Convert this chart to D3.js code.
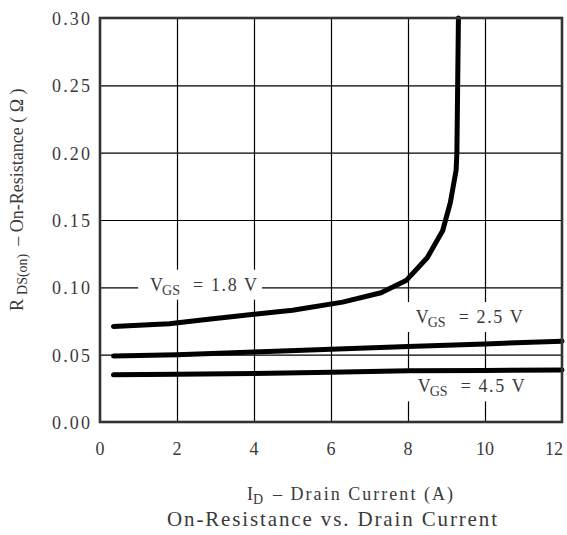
<!DOCTYPE html>
<html><head><meta charset="utf-8">
<script src="https://cdn.jsdelivr.net/npm/d3@7"></script>
<style>
body{margin:0;background:#fff;}
text{font-family:"Liberation Serif","DejaVu Serif",serif;fill:#3a3a3a;}
</style></head>
<body>
<svg id="c" width="567" height="535"></svg>
<script>
// ---- data ----
const xTicks = [0, 2, 4, 6, 8, 10, 12];
const yTicks = [0.00, 0.05, 0.10, 0.15, 0.20, 0.25, 0.30];
const yTickLabels = ["0.00", "0.05", "0.10", "0.15", "0.20", "0.25", "0.30"];
const vgs18 = [[0.35,0.071],[1.8,0.073],[2.7,0.076],[4,0.080],[5,0.083],[6.3,0.089],[7.3,0.096],[7.95,0.105],[8.5,0.122],[8.9,0.142],[9.1,0.163],[9.25,0.187],[9.27,0.20],[9.29,0.25],[9.31,0.30]];
const vgs25 = [[0.35,0.049],[2,0.050],[4,0.052],[6,0.054],[8,0.056],[10,0.058],[12,0.060]];
const vgs45 = [[0.35,0.035],[2,0.0355],[4,0.036],[6,0.037],[8,0.038],[10,0.0383],[12,0.0386]];
const seriesLabels = [
  {v:"1.8", x:1.3, y:0.0975},
  {v:"2.5", x:8.2, y:0.0735},
  {v:"4.5", x:8.25, y:0.022}
];

const svg = d3.select("#c");
const L=100, R=562, T=18, B=422;
const x = d3.scaleLinear().domain([0,12]).range([L,R]);
const y = d3.scaleLinear().domain([0,0.30]).range([B,T]);

// grid
const gridV = svg.append("g").attr("transform",`translate(0,${B})`)
  .call(d3.axisBottom(x).tickValues(xTicks.slice(1,-1)).tickSize(-(B-T)).tickFormat(""));
gridV.select(".domain").remove();
gridV.selectAll("line").attr("stroke","#000").attr("stroke-width",1.2);
const gridH = svg.append("g").attr("transform",`translate(${L},0)`)
  .call(d3.axisLeft(y).tickValues(yTicks.slice(1,-1)).tickSize(-(R-L)).tickFormat(""));
gridH.select(".domain").remove();
gridH.selectAll("line").attr("stroke","#000").attr("stroke-width",1.2);

// label backgrounds (white boxes breaking the grid)
seriesLabels.forEach(s=>{
  const px = x(s.x), py = y(s.y);
  svg.append("rect").attr("x",px-12).attr("y",py-21).attr("width",124).attr("height",30).attr("fill","#fff");
});

// curves
const line = d3.line().x(d=>x(d[0])).y(d=>y(d[1]));
[vgs18, vgs25, vgs45].forEach(d=>{
  svg.append("path").attr("d",line(d)).attr("fill","none").attr("stroke","#000")
    .attr("stroke-width",5).attr("stroke-linecap","round").attr("stroke-linejoin","round");
});

// border
svg.append("rect").attr("x",L).attr("y",T).attr("width",R-L).attr("height",B-T)
  .attr("fill","none").attr("stroke","#333").attr("stroke-width",2.6);

// series labels
seriesLabels.forEach(s=>{
  const px = x(s.x), py = y(s.y);
  svg.append("text").attr("x",px).attr("y",py).attr("font-size",18).text("V");
  svg.append("text").attr("x",px+12).attr("y",py+4).attr("font-size",14).text("GS");
  svg.append("text").attr("x",px+43).attr("y",py).attr("font-size",18)
    .attr("textLength",64).attr("lengthAdjust","spacing").text("= "+s.v+" V");
});

// y tick labels
svg.append("g").selectAll("text").data(yTicks).join("text")
  .attr("x",90).attr("y",d=>y(d)+7).attr("text-anchor","end").attr("font-size",18)
  .attr("textLength",38).attr("lengthAdjust","spacing")
  .text((d,i)=>yTickLabels[i]);

// x tick labels
svg.append("g").selectAll("text").data(xTicks).join("text")
  .attr("x",d=>x(d) - (d===12?8:0)).attr("y",455).attr("text-anchor","middle").attr("font-size",18)
  .text(d=>d);

// x axis title
svg.append("text").attr("x",247).attr("y",500).attr("font-size",18).text("I");
svg.append("text").attr("x",253).attr("y",504).attr("font-size",14).text("D");
svg.append("text").attr("x",273).attr("y",500).attr("font-size",18)
  .attr("textLength",180).attr("lengthAdjust","spacing").text("– Drain Current (A)");

// chart title
svg.append("text").attr("x",167).attr("y",526).attr("font-size",21)
  .attr("textLength",330).attr("lengthAdjust","spacing").text("On-Resistance vs. Drain Current");

// y axis title
const yt = svg.append("text").attr("transform","translate(23,311) rotate(-90)").attr("font-size",18);
yt.append("tspan").text("R");
yt.append("tspan").attr("font-size",14).attr("dy",4).attr("dx",4).text("DS(on)");
yt.append("tspan").attr("dy",-4).attr("dx",8).text("–  On-Resistance  ( Ω )");
</script>
</body></html>
